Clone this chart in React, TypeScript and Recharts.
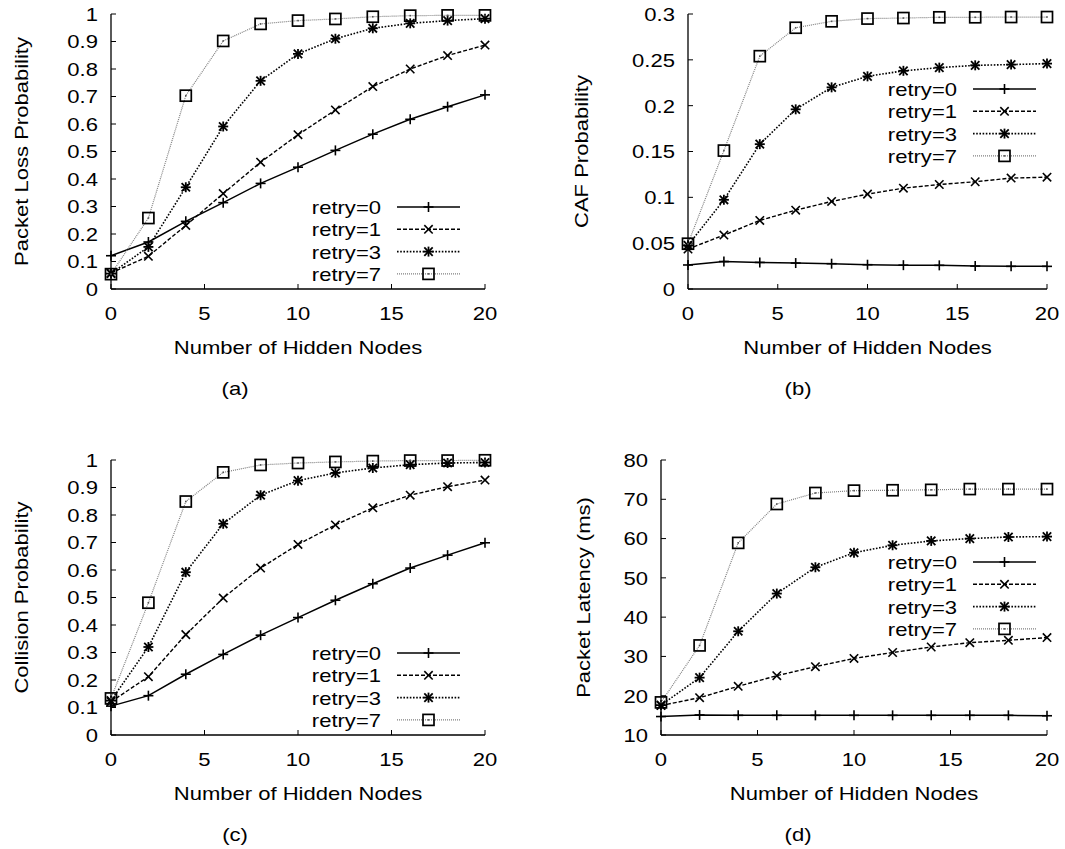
import React from 'react';
import { LineChart, Line, XAxis, YAxis, Legend } from 'recharts';

// ---------- data ----------
const hiddenNodes = [0, 2, 4, 6, 8, 10, 12, 14, 16, 18, 20];
const xTicks = [0, 5, 10, 15, 20];
const seriesNames = ['retry=0', 'retry=1', 'retry=3', 'retry=7'];

const probTicks = [0, 0.1, 0.2, 0.3, 0.4, 0.5, 0.6, 0.7, 0.8, 0.9, 1];
const cafTicks = [0, 0.05, 0.1, 0.15, 0.2, 0.25, 0.3];
const latencyTicks = [10, 20, 30, 40, 50, 60, 70, 80];

// (a) Packet loss probability
const lossRetry0 = [0.121, 0.171, 0.246, 0.314, 0.384, 0.443, 0.504, 0.563, 0.617, 0.663, 0.706];
const lossRetry1 = [0.058, 0.119, 0.231, 0.347, 0.461, 0.561, 0.651, 0.736, 0.8, 0.849, 0.887];
const lossRetry3 = [0.056, 0.153, 0.37, 0.591, 0.757, 0.855, 0.91, 0.948, 0.966, 0.976, 0.983];
const lossRetry7 = [0.054, 0.258, 0.703, 0.902, 0.964, 0.976, 0.982, 0.99, 0.994, 0.995, 0.995];

// (b) CAF probability
const cafRetry0 = [0.0262, 0.03, 0.029, 0.0283, 0.0276, 0.0265, 0.026, 0.0258, 0.025, 0.0247, 0.0247];
const cafRetry1 = [0.0436, 0.0588, 0.0748, 0.086, 0.0955, 0.1035, 0.11, 0.114, 0.117, 0.121, 0.122];
const cafRetry3 = [0.0476, 0.0973, 0.158, 0.196, 0.22, 0.232, 0.238, 0.2415, 0.244, 0.2448, 0.2459];
const cafRetry7 = [0.0494, 0.151, 0.254, 0.285, 0.292, 0.295, 0.2956, 0.2964, 0.2964, 0.2967, 0.2967];

// (c) Collision probability
const collRetry0 = [0.105, 0.143, 0.221, 0.293, 0.363, 0.427, 0.49, 0.55, 0.607, 0.654, 0.699];
const collRetry1 = [0.121, 0.212, 0.365, 0.498, 0.607, 0.693, 0.764, 0.826, 0.872, 0.903, 0.927];
const collRetry3 = [0.125, 0.32, 0.592, 0.768, 0.872, 0.925, 0.953, 0.971, 0.983, 0.989, 0.991];
const collRetry7 = [0.133, 0.481, 0.849, 0.955, 0.982, 0.989, 0.993, 0.996, 0.998, 0.998, 0.999];

// (d) Packet latency (ms)
const latRetry0 = [14.7, 15.1, 15.0, 15.0, 15.0, 15.0, 15.0, 15.0, 15.0, 15.0, 14.9];
const latRetry1 = [17.5, 19.5, 22.4, 25.1, 27.4, 29.5, 31.0, 32.4, 33.5, 34.1, 34.8];
const latRetry3 = [17.6, 24.6, 36.4, 46.0, 52.7, 56.4, 58.3, 59.4, 60.0, 60.4, 60.5];
const latRetry7 = [18.3, 32.8, 58.9, 68.8, 71.6, 72.2, 72.3, 72.4, 72.6, 72.6, 72.6];

// ---------- styling ----------
const FONT = '"Liberation Sans", Arial, Helvetica, sans-serif';
const FS = 19;
const SX = 1.16; // horizontal stretch of the glyphs, as in the reference

function SText({ x, y, anchor, rotate = 0, children }: { x: number; y: number; anchor: string; rotate?: number; children: any }) {
  return (
    <text
      transform={`translate(${x} ${y}) rotate(${rotate}) scale(${SX} 1)`}
      x={0}
      y={0}
      textAnchor={anchor as any}
      dominantBaseline="central"
      fontFamily={FONT}
      fontSize={FS}
      fill="#000"
    >
      {children}
    </text>
  );
}

type MarkerKind = 'plus' | 'cross' | 'star' | 'square';
const lineStyles: { key: string; dash?: string; color: string; width: number; marker: MarkerKind }[] = [
  { key: 'r0', color: '#000', width: 1.5, marker: 'plus' },
  { key: 'r1', dash: '4 2', color: '#000', width: 1.4, marker: 'cross' },
  { key: 'r3', dash: '1.6 1.6', color: '#000', width: 1.6, marker: 'star' },
  { key: 'r7', dash: '1 1', color: '#808080', width: 1.2, marker: 'square' },
];

function Marker({ cx, cy, kind }: { cx: number; cy: number; kind: MarkerKind }) {
  if (cx == null || cy == null || isNaN(cx) || isNaN(cy)) return null;
  const s = 5;
  const d = 4.2;
  if (kind === 'plus') {
    return (
      <g stroke="#000" strokeWidth={1.6}>
        <line x1={cx - s} y1={cy} x2={cx + s} y2={cy} />
        <line x1={cx} y1={cy - s} x2={cx} y2={cy + s} />
      </g>
    );
  }
  if (kind === 'cross') {
    return (
      <g stroke="#000" strokeWidth={1.6}>
        <line x1={cx - d} y1={cy - d} x2={cx + d} y2={cy + d} />
        <line x1={cx - d} y1={cy + d} x2={cx + d} y2={cy - d} />
      </g>
    );
  }
  if (kind === 'star') {
    return (
      <g stroke="#000" strokeWidth={1.8}>
        <line x1={cx - s} y1={cy} x2={cx + s} y2={cy} />
        <line x1={cx} y1={cy - s} x2={cx} y2={cy + s} />
        <line x1={cx - d} y1={cy - d} x2={cx + d} y2={cy + d} />
        <line x1={cx - d} y1={cy + d} x2={cx + d} y2={cy - d} />
      </g>
    );
  }
  return (
    <g>
      <rect x={cx - 5.5} y={cy - 5.5} width={11} height={11} fill="none" stroke="#000" strokeWidth={1.7} />
      <rect x={cx - 0.8} y={cy - 0.8} width={1.6} height={1.6} fill="#555" />
    </g>
  );
}

const makeDot = (kind: MarkerKind) => (props: any) => (
  <Marker key={`dot-${kind}-${props.index}`} cx={props.cx} cy={props.cy} kind={kind} />
);

function LegendBox() {
  const rowY = (i: number) => 11 + i * 22.3;
  return (
    <svg width={175} height={92} style={{ display: 'block', overflow: 'visible' }}>
      {lineStyles.map((st, i) => (
        <g key={st.key}>
          <SText x={80} y={rowY(i)} anchor="end">
            {seriesNames[i]}
          </SText>
          <line
            x1={96}
            x2={159}
            y1={rowY(i)}
            y2={rowY(i)}
            stroke={st.color}
            strokeWidth={st.width}
            strokeDasharray={st.dash}
          />
          <Marker cx={127.5} cy={rowY(i)} kind={st.marker} />
        </g>
      ))}
    </svg>
  );
}

type PanelCfg = {
  left: number;
  top: number;
  width: number;
  height: number;
  plotLeft: number;
  plotRight: number;
  plotTop: number;
  plotBottom: number;
  yLabel: string;
  yLabelX: number;
  yDomain: [number, number];
  yTicks: number[];
  series: number[][];
  legendLeft: number;
  legendTop: number;
  caption: string;
  captionX: number;
};

const renderXTick = (props: any) => (
  <SText key={`xt-${props.index}`} x={props.x} y={props.y + 11} anchor="middle">
    {String(props.payload.value)}
  </SText>
);

const renderYTick = (props: any) => (
  <SText key={`yt-${props.index}`} x={props.x} y={props.y} anchor="end">
    {String(props.payload.value)}
  </SText>
);

function Panel({ cfg }: { cfg: PanelCfg }) {
  const data = hiddenNodes.map((n, i) => ({
    x: n,
    r0: cfg.series[0][i],
    r1: cfg.series[1][i],
    r3: cfg.series[2][i],
    r7: cfg.series[3][i],
  }));
  const xAxisH = cfg.height - cfg.plotBottom;
  const plotCx = (cfg.plotLeft + cfg.plotRight) / 2;
  const plotCy = (cfg.plotTop + cfg.plotBottom) / 2;
  const axisStroke = { stroke: '#000', strokeWidth: 1.3 };
  return (
    <div style={{ position: 'absolute', left: cfg.left, top: cfg.top, width: cfg.width, height: cfg.height }}>
      <LineChart
        width={cfg.width}
        height={cfg.height}
        data={data}
        margin={{ top: cfg.plotTop, right: cfg.width - cfg.plotRight, left: 0, bottom: 0 }}
      >
        <XAxis
          dataKey="x"
          type="number"
          domain={[0, 20]}
          ticks={xTicks}
          interval={0}
          height={xAxisH}
          tickSize={-5}
          tickMargin={18}
          tick={renderXTick}
          axisLine={axisStroke}
          tickLine={{ stroke: '#000', strokeWidth: 1 }}
          label={() => (
            <g>
              <SText x={plotCx} y={cfg.plotBottom + 58} anchor="middle">
                Number of Hidden Nodes
              </SText>
              <SText x={cfg.captionX} y={cfg.plotBottom + 99} anchor="middle">
                {cfg.caption}
              </SText>
            </g>
          )}
        />
        <XAxis
          xAxisId="top"
          orientation="top"
          dataKey="x"
          type="number"
          domain={[0, 20]}
          ticks={xTicks}
          interval={0}
          height={0}
          tickSize={-5}
          tickFormatter={() => ''}
          axisLine={axisStroke}
          tickLine={{ stroke: '#000', strokeWidth: 1 }}
        />
        <YAxis
          type="number"
          domain={cfg.yDomain}
          ticks={cfg.yTicks}
          interval={0}
          width={cfg.plotLeft}
          tickSize={-5}
          tickMargin={18}
          tick={renderYTick}
          axisLine={axisStroke}
          tickLine={{ stroke: '#000', strokeWidth: 1 }}
          label={() => (
            <SText x={cfg.yLabelX} y={plotCy} anchor="middle" rotate={-90}>
              {cfg.yLabel}
            </SText>
          )}
        />
        <YAxis
          yAxisId="right"
          orientation="right"
          type="number"
          domain={cfg.yDomain}
          ticks={cfg.yTicks}
          interval={0}
          width={0}
          tickSize={-5}
          tickFormatter={() => ''}
          axisLine={axisStroke}
          tickLine={{ stroke: '#000', strokeWidth: 1 }}
        />
        {lineStyles.map((st) => (
          <Line
            key={st.key}
            dataKey={st.key}
            type="linear"
            stroke={st.color}
            strokeWidth={st.width}
            strokeDasharray={st.dash}
            dot={makeDot(st.marker)}
            activeDot={false}
            isAnimationActive={false}
          />
        ))}
        <Legend
          layout="vertical"
          align="center"
          verticalAlign="middle"
          content={() => <LegendBox />}
          wrapperStyle={{ left: cfg.legendLeft, top: cfg.legendTop, width: 175, height: 92 }}
        />
      </LineChart>
    </div>
  );
}

const panels: PanelCfg[] = [
  {
    left: 0, top: 0, width: 530, height: 420,
    plotLeft: 111, plotRight: 485, plotTop: 14, plotBottom: 289,
    yLabel: 'Packet Loss Probability', yLabelX: 21,
    yDomain: [0, 1], yTicks: probTicks,
    series: [lossRetry0, lossRetry1, lossRetry3, lossRetry7],
    legendLeft: 300.5, legendTop: 196,
    caption: '(a)', captionX: 235,
  },
  {
    left: 530, top: 0, width: 535, height: 420,
    plotLeft: 158, plotRight: 517, plotTop: 14, plotBottom: 289,
    yLabel: 'CAF Probability', yLabelX: 51,
    yDomain: [0, 0.3], yTicks: cafTicks,
    series: [cafRetry0, cafRetry1, cafRetry3, cafRetry7],
    legendLeft: 346.5, legendTop: 78,
    caption: '(b)', captionX: 268,
  },
  {
    left: 0, top: 420, width: 530, height: 429,
    plotLeft: 111, plotRight: 485, plotTop: 40, plotBottom: 315,
    yLabel: 'Collision Probability', yLabelX: 21,
    yDomain: [0, 1], yTicks: probTicks,
    series: [collRetry0, collRetry1, collRetry3, collRetry7],
    legendLeft: 300.5, legendTop: 222,
    caption: '(c)', captionX: 235,
  },
  {
    left: 530, top: 420, width: 535, height: 429,
    plotLeft: 131, plotRight: 517, plotTop: 40, plotBottom: 315,
    yLabel: 'Packet Latency (ms)', yLabelX: 53,
    yDomain: [10, 80], yTicks: latencyTicks,
    series: [latRetry0, latRetry1, latRetry3, latRetry7],
    legendLeft: 346.5, legendTop: 131,
    caption: '(d)', captionX: 268,
  },
];

export default function App() {
  return (
    <div style={{ position: 'absolute', left: 0, top: 0, width: 1065, height: 849, background: '#fff', fontFamily: FONT }}>
      {panels.map((p, i) => (
        <Panel key={i} cfg={p} />
      ))}
    </div>
  );
}
